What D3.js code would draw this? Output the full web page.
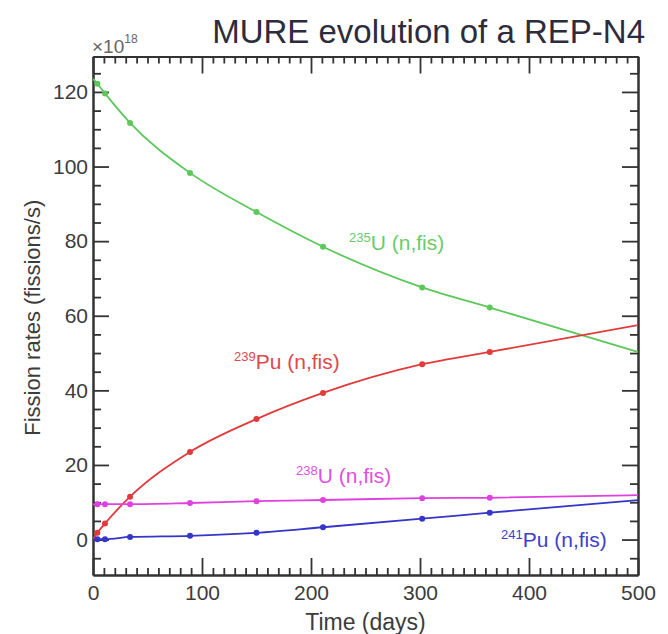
<!DOCTYPE html>
<html><head><meta charset="utf-8">
<script src="https://cdn.jsdelivr.net/npm/d3@7"></script>
<style>
body{margin:0;background:#fff;}
svg{display:block;font-family:"Liberation Sans",Arial,sans-serif;}
</style></head>
<body><svg id="c" width="668" height="634"></svg>
<script>
// ---- data (fission rates in units of 1e18 fissions/s) ----
const days   = [0, 4, 11, 34, 89, 150, 211, 302, 364, 500];
const u235   = [123.5, 122.2, 119.6, 111.7, 98.3, 87.8, 78.5, 67.6, 62.2, 50.3];
const pu239  = [0.0, 1.8, 4.3, 11.5, 23.5, 32.3, 39.3, 47.0, 50.3, 57.5];
const u238   = [9.4, 9.5, 9.5, 9.5, 9.8, 10.3, 10.6, 11.1, 11.2, 11.9];
const pu241  = [0.0, 0.1, 0.1, 0.7, 1.0, 1.8, 3.3, 5.6, 7.2, 10.6];
const isotopeMass = ["235", "239", "238", "241"];
const isotopeSym  = ["U", "Pu", "U", "Pu"];
const reaction = " (n,fis)";
const xTicks = [0, 100, 200, 300, 400, 500];
const yTicks = [0, 20, 40, 60, 80, 100, 120];
const xDomain = [0, 500];
const yDomain = [-9.5, 129.5];
const title = "MURE evolution of a REP-N4";
const xTitle = "Time (days)";
const yTitle = "Fission rates (fissions/s)";

// ---- layout ----
const L = 93, R = 638, T = 56.5, B = 575;
const colors = ["#5cc85c", "#e23a3a", "#e040e0", "#3535c8"];
const labelColors = ["#6acb6a", "#e04848", "#e050e0", "#4040cc"];
const labelPos = [[349, 250], [234, 369], [296, 483], [501, 547]];

const svg = d3.select("#c");
const x = d3.scaleLinear(xDomain, [L, R]);
const y = d3.scaleLinear(yDomain, [B, T]);

const xMinor = d3.range(0, 501, 10).filter(v => v % 100 !== 0);
const yMinor = d3.range(-5, 130, 5).filter(v => v % 20 !== 0);

const axColor = "#333";
function styleAxis(g){
  g.selectAll("path.domain").attr("stroke", axColor).attr("stroke-width", 2);
  g.selectAll(".tick line").attr("stroke", axColor).attr("stroke-width", 1.8);
  g.selectAll(".tick text").attr("fill", "#3c3c3c").attr("font-size", 21)
    .attr("font-family", "'Liberation Sans',Arial,sans-serif");
}

// bottom
svg.append("g").attr("transform", `translate(0,${B})`)
  .call(d3.axisBottom(x).tickValues(xMinor).tickSize(-7).tickSizeOuter(0).tickFormat(""))
  .call(styleAxis);
svg.append("g").attr("transform", `translate(0,${B})`)
  .call(d3.axisBottom(x).tickValues(xTicks).tickSize(-17).tickSizeOuter(0).tickPadding(10.5).tickFormat(d3.format("d")))
  .call(styleAxis);
// top
svg.append("g").attr("transform", `translate(0,${T})`)
  .call(d3.axisTop(x).tickValues(xMinor).tickSize(-7).tickSizeOuter(0).tickFormat(""))
  .call(styleAxis);
svg.append("g").attr("transform", `translate(0,${T})`)
  .call(d3.axisTop(x).tickValues(xTicks).tickSize(-17).tickSizeOuter(0).tickFormat(""))
  .call(styleAxis);
// left
svg.append("g").attr("transform", `translate(${L},0)`)
  .call(d3.axisLeft(y).tickValues(yMinor).tickSize(-8).tickSizeOuter(0).tickFormat(""))
  .call(styleAxis);
svg.append("g").attr("transform", `translate(${L},0)`)
  .call(d3.axisLeft(y).tickValues(yTicks).tickSize(-16).tickSizeOuter(0).tickPadding(5).tickFormat(d3.format("d")))
  .call(styleAxis);
// right
svg.append("g").attr("transform", `translate(${R},0)`)
  .call(d3.axisRight(y).tickValues(yMinor).tickSize(-8).tickSizeOuter(0).tickFormat(""))
  .call(styleAxis);
svg.append("g").attr("transform", `translate(${R},0)`)
  .call(d3.axisRight(y).tickValues(yTicks).tickSize(-16).tickSizeOuter(0).tickFormat(""))
  .call(styleAxis);

// clip
svg.append("clipPath").attr("id", "clip").append("rect")
  .attr("x", L).attr("y", T).attr("width", R - L).attr("height", B - T);

const allSeries = [u235, pu239, u238, pu241];
const line = d3.line().x(d => x(d[0])).y(d => y(d[1])).curve(d3.curveMonotoneX);
const plot = svg.append("g").attr("clip-path", "url(#clip)");
allSeries.forEach((vals, i) => {
  const pts = days.map((d, j) => [d, vals[j]]);
  plot.append("path").datum(pts).attr("d", line)
    .attr("fill", "none").attr("stroke", colors[i]).attr("stroke-width", 1.8);
  plot.selectAll(null).data(pts.slice(1, -1)).enter().append("circle")
    .attr("cx", d => x(d[0])).attr("cy", d => y(d[1])).attr("r", 3)
    .attr("fill", colors[i]);
});

// series labels
isotopeMass.forEach((m, i) => {
  const t = svg.append("text").attr("x", labelPos[i][0]).attr("y", labelPos[i][1])
    .attr("fill", labelColors[i]).attr("font-size", 21);
  t.append("tspan").attr("font-size", 13).attr("dy", -8).text(m);
  t.append("tspan").attr("dy", 8).text(isotopeSym[i] + reaction);
});

// titles
svg.append("text").attr("x", 645).attr("y", 43).attr("text-anchor", "end")
  .attr("font-size", 33).attr("fill", "#2c2c3c").text(title);
const ex = svg.append("text").attr("x", 92).attr("y", 53).attr("fill", "#666").attr("font-size", 19);
ex.append("tspan").text("\u00d710");
ex.append("tspan").attr("font-size", 12).attr("dy", -10).text("18");
svg.append("text").attr("x", (L + R) / 2).attr("y", 630).attr("text-anchor", "middle")
  .attr("font-size", 23).attr("fill", "#3c3c3c").text(xTitle);
svg.append("text").attr("transform", `translate(40,${(T + B) / 2 + 2}) rotate(-90)`)
  .attr("text-anchor", "middle").attr("font-size", 22).attr("fill", "#3c3c3c").text(yTitle);
</script></body></html>
